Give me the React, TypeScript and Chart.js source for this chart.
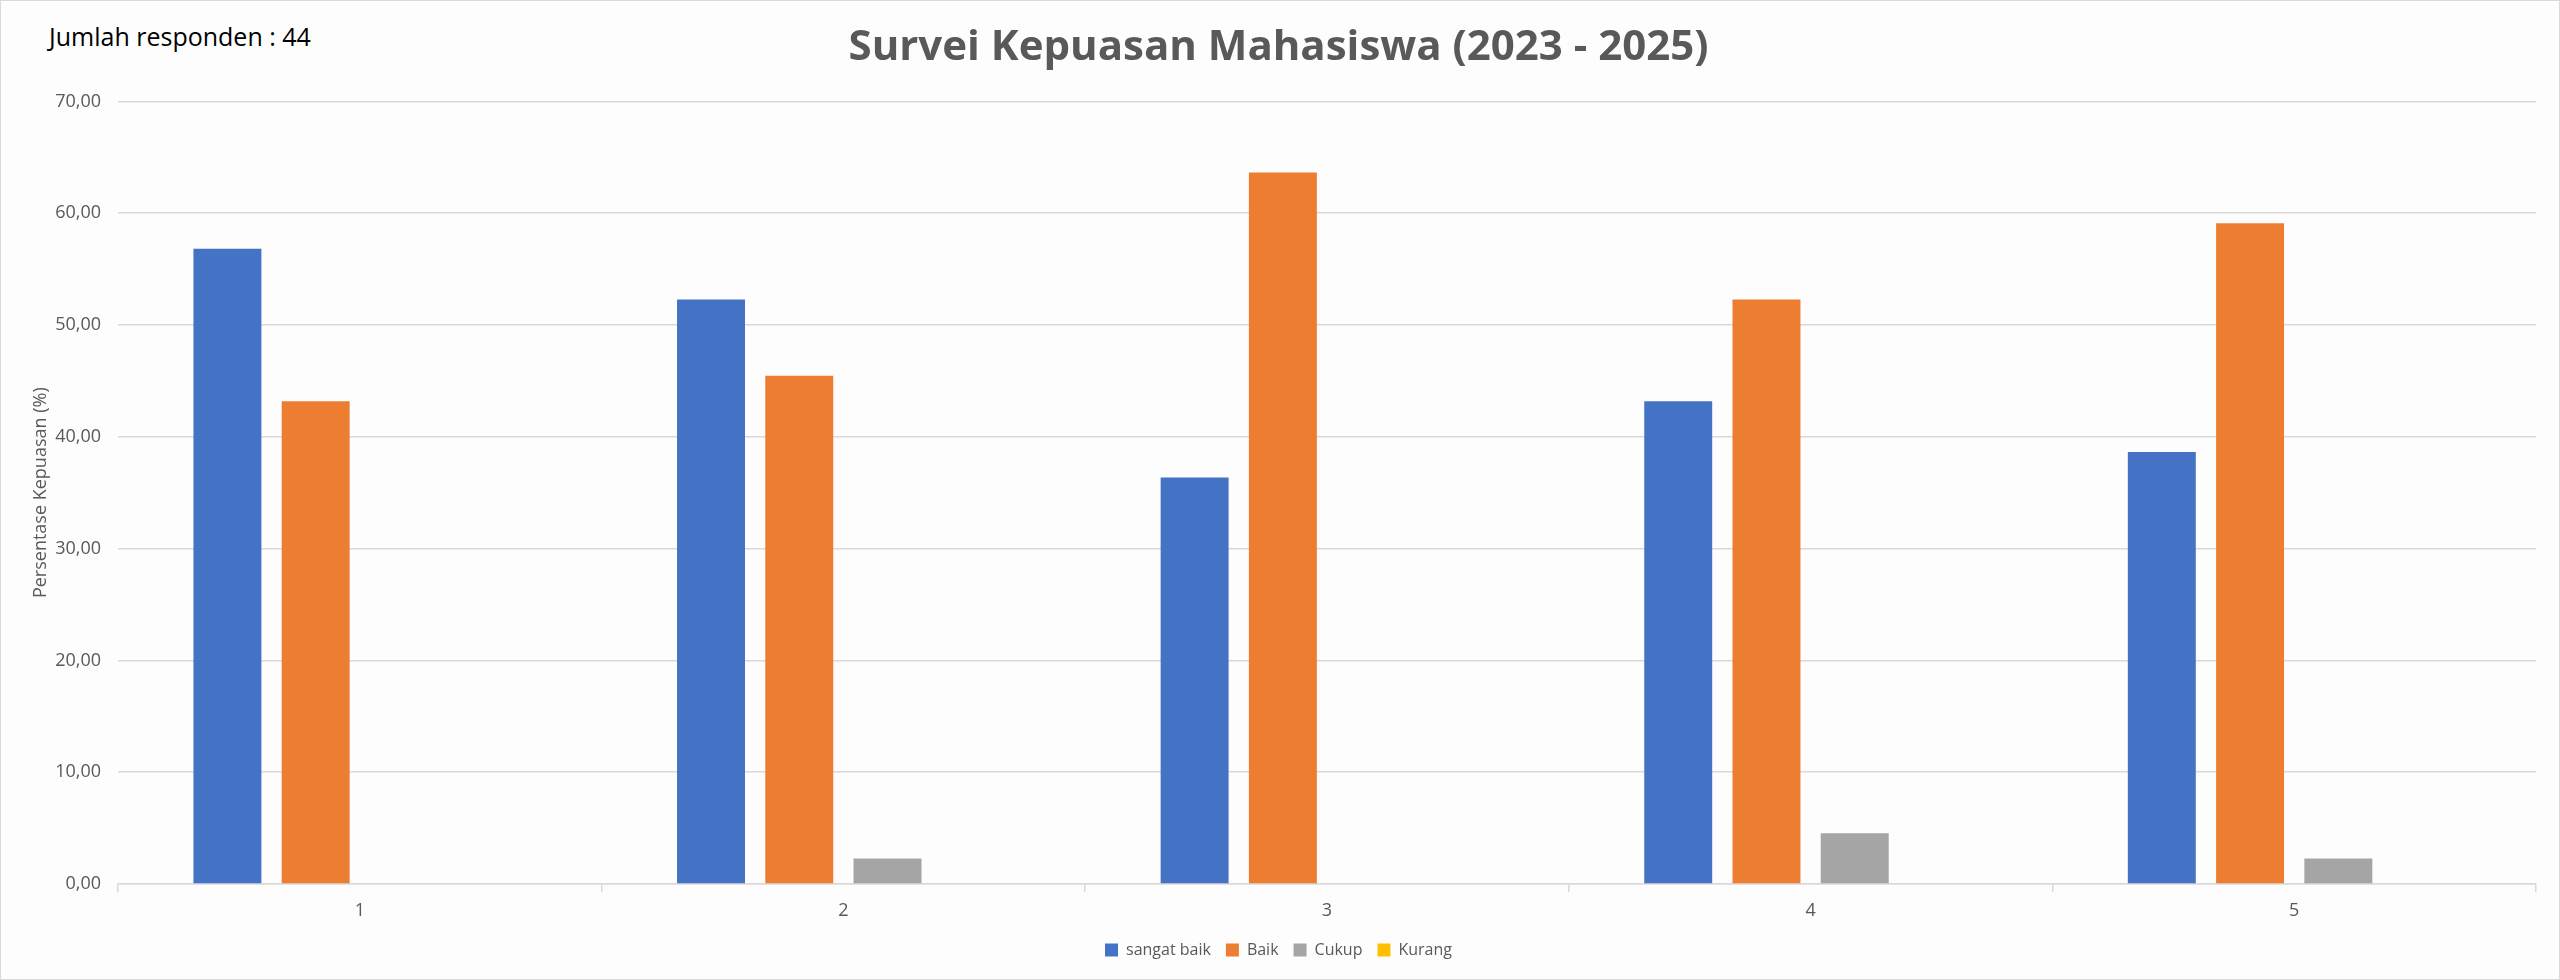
import { useEffect, useRef } from 'react';
import { Chart, registerables } from 'chart.js';

Chart.register(...registerables);

// Persentase per kategori jawaban (44 responden)
const categories = ['1', '2', '3', '4', '5'];
const sangatBaik = [56.82, 52.27, 36.36, 43.18, 38.64];
const baik = [43.18, 45.45, 63.64, 52.27, 59.09];
const cukup = [0, 2.27, 0, 4.55, 2.27];
const kurang = [0, 0, 0, 0, 0];

const TEXT = '#595959';
const GRID = '#D9D9D9';
const FONT = '"Open Sans", "Noto Sans", sans-serif';

function fmtTick(v: number): string {
  return Number(v).toFixed(2).replace('.', ',');
}

export default function App(): JSX.Element {
  const canvasRef = useRef<HTMLCanvasElement>(null);
  const chartRef = useRef<Chart | null>(null);

  useEffect(() => {
    document.body.style.margin = '0';
    if (!canvasRef.current) return;
    if (chartRef.current) chartRef.current.destroy();

    Chart.defaults.font.family = FONT;

    chartRef.current = new Chart(canvasRef.current, {
      type: 'bar',
      data: {
        labels: categories,
        datasets: [
          { label: 'sangat baik', data: sangatBaik, backgroundColor: '#4472C4' },
          { label: 'Baik', data: baik, backgroundColor: '#ED7D31' },
          { label: 'Cukup', data: cukup, backgroundColor: '#A5A5A5' },
          { label: 'Kurang', data: kurang, backgroundColor: '#FFC000' },
        ],
      },
      options: {
        animation: false,
        responsive: true,
        maintainAspectRatio: false,
        devicePixelRatio: 1,
        datasets: { bar: { categoryPercentage: 0.73, barPercentage: 0.77, borderWidth: 0 } },
        layout: { padding: { top: 0, left: 20, right: 23, bottom: 11 } },
        plugins: {
          title: {
            display: true,
            text: 'Survei Kepuasan Mahasiswa (2023 - 2025)',
            color: TEXT,
            font: { size: 42, weight: 'bold' },
            padding: { top: 22, bottom: 28 },
          },
          legend: {
            position: 'bottom',
            labels: { boxWidth: 13, boxHeight: 13, color: TEXT, font: { size: 16 }, padding: 15 },
          },
          tooltip: { enabled: false },
        },
        scales: {
          x: {
            grid: { display: true, drawOnChartArea: false, drawTicks: true, tickLength: 8, color: GRID, lineWidth: 1.5 },
            border: { display: true, color: GRID, width: 1.5 },
            ticks: { color: TEXT, font: { size: 18 }, padding: 8 },
            afterFit: s => { s.height = 43; },
          },
          y: {
            min: 0,
            max: 70,
            ticks: { stepSize: 10, color: TEXT, font: { size: 18 }, padding: 17, callback: v => fmtTick(Number(v)) },
            grid: { color: GRID, lineWidth: 1.5, drawTicks: false },
            border: { display: false },
            title: { display: true, text: 'Persentase Kepuasan (%)', color: TEXT, font: { size: 18 }, padding: { top: 9, bottom: 0 } },
            afterFit: s => { s.width = 97; },
          },
        },
      },
    });

    return () => { chartRef.current?.destroy(); chartRef.current = null; };
  }, []);

  return (
    <div
      style={{
        position: 'relative',
        width: 2560,
        height: 980,
        boxSizing: 'border-box',
        border: '1px solid #D9D9D9',
        background: '#FDFDFD',
      }}
    >
      <div
        style={{
          position: 'absolute',
          left: 48,
          top: 18,
          fontFamily: FONT,
          fontSize: 25,
          color: '#000',
          whiteSpace: 'nowrap',
        }}
      >
        Jumlah responden : 44
      </div>
      <div style={{ position: 'absolute', inset: 0 }}>
        <canvas ref={canvasRef} role="img" aria-label="Survei Kepuasan Mahasiswa (2023 - 2025)" />
      </div>
    </div>
  );
}
